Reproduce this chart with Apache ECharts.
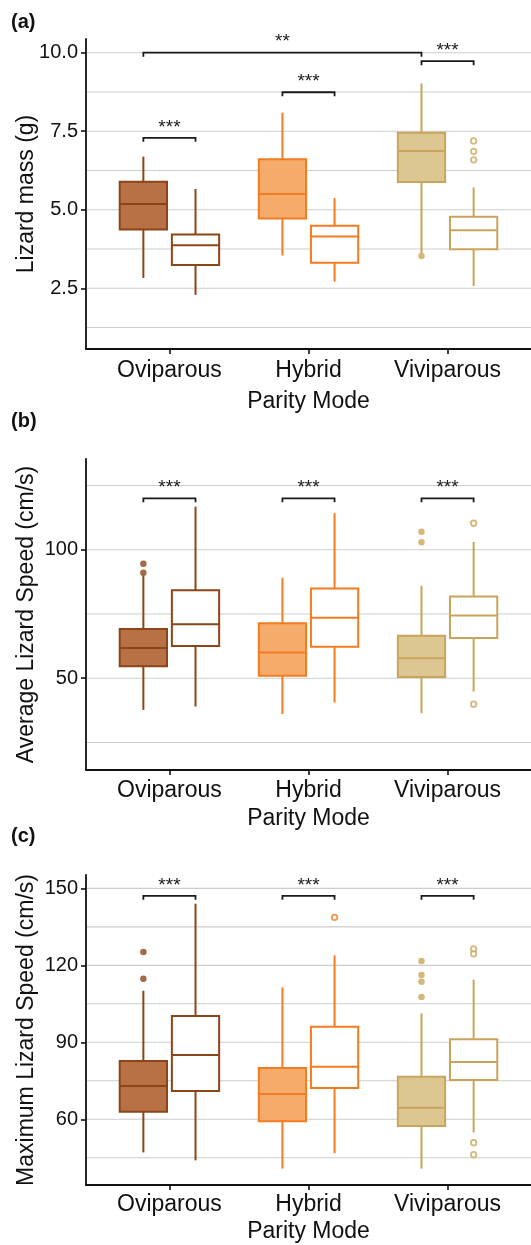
<!DOCTYPE html>
<html>
<head>
<meta charset="utf-8">
<script src="https://cdn.jsdelivr.net/npm/echarts@6/dist/echarts.min.js"></script>
<style>
html,body{margin:0;padding:0;background:#fff;}
#chart{width:531px;height:1245px;}
</style>
</head>
<body>
<div id="chart"></div>
<script>
// ---------------- DATA ----------------
const categories = ['Oviparous', 'Hybrid', 'Viviparous'];
const xAxisTitle = 'Parity Mode';

// box stats per category: [lowWhisker, Q1, median, Q3, highWhisker]
// panel (a) Lizard mass (g)
const massFilled = [[2.83, 4.37, 5.18, 5.89, 6.69], [3.54, 4.72, 5.50, 6.61, 8.09], [3.62, 5.88, 6.87, 7.45, 9.02]];
const massOpen   = [[2.29, 3.24, 3.87, 4.21, 5.66], [2.71, 3.31, 4.15, 4.49, 5.37], [2.57, 3.74, 4.35, 4.78, 5.71]];
const massFilledOutliers = [[2, 3.53]];                 // [categoryIndex, value]
const massOpenOutliers   = [[2, 7.19], [2, 6.86], [2, 6.59]];
// brackets: [catFrom, groupFrom, catTo, groupTo, level, label]  (group 0 = filled, 1 = open)
const massBrackets = [[0, 0, 0, 1, 7.29, '***'], [1, 0, 1, 1, 8.74, '***'], [0, 0, 2, 0, 10.0, '**'], [2, 0, 2, 1, 9.73, '***']];
const massTicks = [2.5, 5.0, 7.5, 10.0];
const massGrid  = [1.25, 2.5, 3.75, 5.0, 6.25, 7.5, 8.75, 10.0];

// panel (b) Average Lizard Speed (cm/s)
const avgFilled = [[37.7, 54.7, 61.8, 69.2, 90.0], [36.1, 51.0, 60.0, 71.4, 89.1], [36.4, 50.5, 57.8, 66.5, 86.0]];
const avgOpen   = [[39.0, 62.5, 71.0, 84.2, 116.8], [40.6, 62.3, 73.5, 84.9, 114.2], [44.8, 65.7, 74.4, 81.8, 103.0]];
const avgFilledOutliers = [[0, 94.5], [0, 91.0], [2, 107.0], [2, 102.9]];
const avgOpenOutliers   = [[2, 110.3], [2, 39.9]];
const avgBrackets = [[0, 0, 0, 1, 120, '***'], [1, 0, 1, 1, 120, '***'], [2, 0, 2, 1, 120, '***']];
const avgTicks = [50, 100];
const avgGrid  = [25, 50, 75, 100, 125];

// panel (c) Maximum Lizard Speed (cm/s)
const maxFilled = [[47.1, 62.9, 73.0, 82.7, 110.1], [40.8, 59.2, 69.9, 80.0, 111.4], [40.8, 57.4, 64.5, 76.6, 101.3]];
const maxOpen   = [[44.0, 71.0, 85.1, 100.3, 144.0], [46.8, 72.2, 80.5, 96.1, 123.9], [54.9, 75.3, 82.3, 91.2, 114.4]];
const maxFilledOutliers = [[0, 125.2], [0, 114.8], [2, 121.7], [2, 116.2], [2, 113.6], [2, 107.7]];
const maxOpenOutliers   = [[1, 138.7], [2, 126.4], [2, 124.5], [2, 50.9], [2, 46.2]];
const maxBrackets = [[0, 0, 0, 1, 147.1, '***'], [1, 0, 1, 1, 147.1, '***'], [2, 0, 2, 1, 147.1, '***']];
const maxTicks = [60, 90, 120, 150];
const maxGrid  = [45, 60, 75, 90, 105, 120, 135, 150];

// ---------------- STYLE ----------------
const strokeColors = ['#8C4516', '#F37B22', '#C9A55B'];
const fillColors   = ['#B87144', '#F5AC6A', '#DCC792'];
const FONT = 'Liberation Sans, Arial, sans-serif';
const INK = '#111';
const DODGE = 0.1875, BOX_W = 0.34;
function xPos(cat, grp) { return cat + 1 + (grp === 0 ? -DODGE : DODGE); }

const panels = [
  { tag: '(a)', tagTop: 12, title: 'Lizard mass (g)', filled: massFilled, open: massOpen,
    fOut: massFilledOutliers, oOut: massOpenOutliers, brackets: massBrackets,
    ticks: massTicks, grid: massGrid, min: 0.567, max: 10.436, dec: 1,
    top: 39, height: 310, labelMargin: 10, nameGap: 41 },
  { tag: '(b)', tagTop: 411, title: 'Average Lizard Speed (cm/s)', filled: avgFilled, open: avgOpen,
    fOut: avgFilledOutliers, oOut: avgOpenOutliers, brackets: avgBrackets,
    ticks: avgTicks, grid: avgGrid, min: 14.3, max: 135.3, dec: 0,
    top: 459, height: 311, labelMargin: 9, nameGap: 37 },
  { tag: '(c)', tagTop: 826, title: 'Maximum Lizard Speed (cm/s)', filled: maxFilled, open: maxOpen,
    fOut: maxFilledOutliers, oOut: maxOpenOutliers, brackets: maxBrackets,
    ticks: maxTicks, grid: maxGrid, min: 34.4, max: 155.2, dec: 0,
    top: 875, height: 310, labelMargin: 8, nameGap: 35 }
];

const grids = [], xAxes = [], yAxes = [], series = [], graphics = [];

panels.forEach((p, i) => {
  grids.push({ left: 86, width: 445, top: p.top, height: p.height, containLabel: false, outerBoundsMode: 'none' });
  xAxes.push({
    gridIndex: i, type: 'value', min: 0.4, max: 3.6,
    axisLine: { show: true, onZero: false, lineStyle: { color: INK, width: 1.8 } },
    axisTick: { show: true, customValues: [1, 2, 3], length: 5, lineStyle: { color: INK, width: 1.6 } },
    axisLabel: { customValues: [1, 2, 3], formatter: v => categories[Math.round(v) - 1],
      fontSize: 23, color: INK, fontFamily: FONT, margin: p.labelMargin },
    splitLine: { show: false },
    name: xAxisTitle, nameLocation: 'middle', nameGap: p.nameGap, nameMoveOverlap: false,
    nameTextStyle: { fontSize: 23, color: INK, fontFamily: FONT }
  });
  yAxes.push({
    gridIndex: i, type: 'value', min: p.min, max: p.max,
    axisLine: { show: true, onZero: false, lineStyle: { color: INK, width: 1.8 } },
    axisTick: { show: true, customValues: p.ticks, length: 5, lineStyle: { color: INK, width: 1.6 } },
    axisLabel: { customValues: p.ticks, formatter: v => v.toFixed(p.dec),
      fontSize: 20, color: INK, fontFamily: FONT, margin: 8 },
    splitLine: { show: false },
    name: p.title, nameLocation: 'middle', nameGap: 48, nameRotate: 90, nameMoveOverlap: false,
    nameTextStyle: { fontSize: 23, color: INK, fontFamily: FONT }
  });

  // gridlines
  series.push({
    type: 'custom', xAxisIndex: i, yAxisIndex: i, z: 1, silent: true, clip: false,
    data: p.grid.map(v => [v]),
    renderItem: (params, api) => {
      const v = api.value(0);
      const a = api.coord([0.4, v]), b = api.coord([3.6, v]);
      return { type: 'line', shape: { x1: a[0] + 1, y1: a[1], x2: b[0], y2: b[1] },
        style: { stroke: '#cdcdcd', lineWidth: 1.1 } };
    }
  });

  // boxes
  const boxData = [];
  [p.filled, p.open].forEach((arr, g) => arr.forEach((s, c) => boxData.push([c, g].concat(s))));
  series.push({
    type: 'custom', xAxisIndex: i, yAxisIndex: i, z: 3, silent: true, clip: false,
    data: boxData,
    renderItem: (params, api) => {
      const c = api.value(0), g = api.value(1);
      const low = api.value(2), q1 = api.value(3), med = api.value(4), q3 = api.value(5), high = api.value(6);
      const xc = xPos(c, g);
      const pc = api.coord([xc, high]);
      const pLow = api.coord([xc, low]);
      const tl = api.coord([xc - BOX_W / 2, q3]);
      const br = api.coord([xc + BOX_W / 2, q1]);
      const pm = api.coord([xc, med]);
      const stroke = strokeColors[c];
      const fill = g === 0 ? fillColors[c] : '#ffffff';
      const st = { stroke: stroke, lineWidth: 2 };
      return { type: 'group', children: [
        { type: 'line', shape: { x1: pc[0], y1: pc[1], x2: pc[0], y2: tl[1] }, style: st },
        { type: 'line', shape: { x1: pc[0], y1: br[1], x2: pc[0], y2: pLow[1] }, style: st },
        { type: 'rect', shape: { x: tl[0], y: tl[1], width: br[0] - tl[0], height: br[1] - tl[1] },
          style: { fill: fill, stroke: stroke, lineWidth: 2 } },
        { type: 'line', shape: { x1: tl[0], y1: pm[1], x2: br[0], y2: pm[1] }, style: st }
      ] };
    }
  });

  // outliers
  [p.fOut, p.oOut].forEach((arr, g) => {
    series.push({
      type: 'scatter', xAxisIndex: i, yAxisIndex: i, z: 4, silent: true,
      symbol: 'circle', symbolSize: g === 0 ? 6.5 : 5.5,
      data: arr.map(o => ({ value: [xPos(o[0], g), o[1]],
        itemStyle: g === 0 ? { color: strokeColors[o[0]] }
                           : { color: '#ffffff', borderColor: strokeColors[o[0]], borderWidth: 1.8 } }))
    });
  });

  // significance brackets
  series.push({
    type: 'custom', xAxisIndex: i, yAxisIndex: i, z: 5, silent: true, clip: false,
    data: p.brackets.map((b, k) => [k]),
    renderItem: (params, api) => {
      const b = p.brackets[params.dataIndex];
      const a1 = api.coord([xPos(b[0], b[1]), b[4]]);
      const a2 = api.coord([xPos(b[2], b[3]), b[4]]);
      return { type: 'group', children: [
        { type: 'polyline', shape: { points: [[a1[0], a1[1] + 4], [a1[0], a1[1]], [a2[0], a2[1]], [a2[0], a2[1] + 4]] },
          style: { stroke: '#1a1a1a', lineWidth: 1.8, fill: null } },
        { type: 'text', x: (a1[0] + a2[0]) / 2, y: a1[1] - 1,
          style: { text: b[5], fontSize: 19, fontFamily: FONT, fill: '#1a1a1a', align: 'center', verticalAlign: 'bottom' } }
      ] };
    }
  });

  graphics.push({ type: 'text', left: 11, top: p.tagTop,
    style: { text: p.tag, font: 'bold 20px ' + FONT, fill: INK } });
});

const chart = echarts.init(document.getElementById('chart'), null, { renderer: 'canvas' });
chart.setOption({
  animation: false,
  backgroundColor: '#ffffff',
  grid: grids, xAxis: xAxes, yAxis: yAxes, series: series, graphic: graphics
});
</script>
</body>
</html>
